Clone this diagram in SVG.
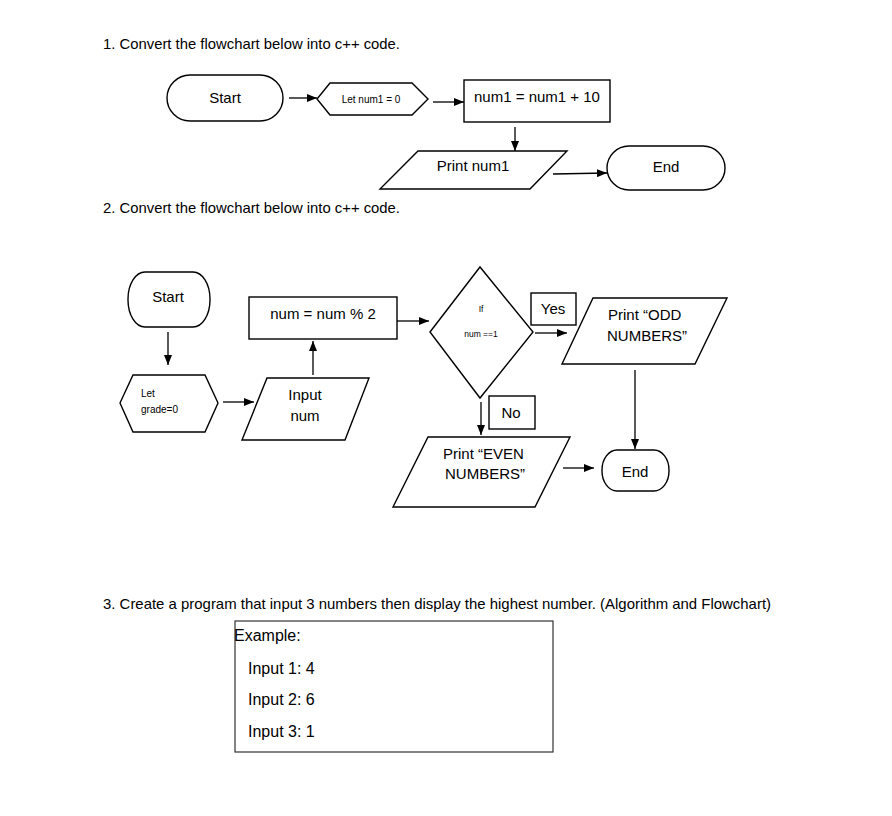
<svg xmlns="http://www.w3.org/2000/svg" width="892" height="816" viewBox="0 0 892 816">
<style>
.s{fill:#fff;stroke:#000;stroke-width:1.4}
.c{fill:none;stroke:#000;stroke-width:1.3}
text{font-family:"Liberation Sans",Arial,sans-serif;fill:#000}
.t{font-size:15px}
.m{text-anchor:middle}
.sm{font-size:10px}
.xs{font-size:8.5px}
.h{font-size:15px}
.ex{font-size:16px}
</style>
<defs>
<marker id="ah" markerUnits="userSpaceOnUse" markerWidth="10" markerHeight="8" refX="10" refY="4" orient="auto">
<path d="M0,0 L10,4 L0,8 z" fill="#000"/>
</marker>
</defs>
<rect width="892" height="816" fill="#fff"/>
<text class="h" x="103" y="49" textLength="297" lengthAdjust="spacingAndGlyphs">1. Convert the flowchart below into c++ code.</text>
<text class="h" x="103" y="213" textLength="297" lengthAdjust="spacingAndGlyphs">2. Convert the flowchart below into c++ code.</text>
<text class="h" x="103" y="609" textLength="668" lengthAdjust="spacingAndGlyphs">3. Create a program that input 3 numbers then display the highest number. (Algorithm and Flowchart)</text>

<g id="n1-start"><rect class="s" x="167" y="75" width="116" height="46" rx="23"/><text class="t m" x="225" y="103">Start</text></g>
<g id="n1-let"><polygon class="s" points="317,99 330,83 412,83 428,99 412,115 330,115"/><text class="sm m" x="371" y="103">Let num1 = 0</text></g>
<g id="n1-add"><rect class="s" x="464" y="80" width="146" height="42"/><text class="t m" x="537" y="102">num1 = num1 + 10</text></g>
<g id="n1-print"><polygon class="s" points="418,151 567,151 530,189 380,189"/><text class="t m" x="473" y="171">Print num1</text></g>
<g id="n1-end"><rect class="s" x="607" y="146" width="118" height="44" rx="22"/><text class="t m" x="666" y="172">End</text></g>

<g id="n2-start"><rect class="s" x="128" y="272" width="82" height="55" rx="17" ry="27"/><text class="t m" x="168" y="302">Start</text></g>
<g id="n2-let"><polygon class="s" points="120,403 133,375 205,375 218,403 205,432 133,432"/><text class="sm" x="141" y="397">Let</text><text class="sm" x="141" y="413">grade=0</text></g>
<g id="n2-input"><polygon class="s" points="267,378 369,378 345,440 242,440"/><text class="t m" x="305" y="400">Input</text><text class="t m" x="305" y="421">num</text></g>
<g id="n2-mod"><rect class="s" x="249" y="297" width="148" height="42"/><text class="t m" x="323" y="319">num = num % 2</text></g>
<g id="n2-if"><polygon class="s" points="430,332 480,267 533,332 480,398"/><text class="xs m" x="481" y="312">If</text><text class="xs m" x="481" y="337">num ==1</text></g>
<g id="n2-yes"><rect class="s" x="531" y="293" width="45" height="32"/><text class="t m" x="553" y="314">Yes</text></g>
<g id="n2-odd"><polygon class="s" points="593,298 727,298 695,364 562,364"/><text class="t" x="608" y="320">Print “ODD</text><text class="t" x="607" y="341">NUMBERS”</text></g>
<g id="n2-no"><rect class="s" x="489" y="396" width="46" height="33"/><text class="t m" x="511" y="418">No</text></g>
<g id="n2-even"><polygon class="s" points="428,437 570,437 535,507 393,507"/><text class="t" x="443" y="459">Print “EVEN</text><text class="t" x="445" y="479">NUMBERS”</text></g>
<g id="n2-end"><rect class="s" x="602" y="450" width="67" height="41" rx="15" ry="20"/><text class="t m" x="635" y="477">End</text></g>

<g id="example"><rect x="235" y="621" width="318" height="131" fill="#fff" stroke="#333" stroke-width="1.2"/>
<text class="ex" x="234" y="641">Example:</text>
<text class="ex" x="248" y="674">Input 1: 4</text>
<text class="ex" x="248" y="705">Input 2: 6</text>
<text class="ex" x="248" y="737">Input 3: 1</text></g>

<g id="connectors">
<line class="c" x1="289" y1="98" x2="317" y2="98" marker-end="url(#ah)"/>
<line class="c" x1="433" y1="102" x2="464" y2="102" marker-end="url(#ah)"/>
<line class="c" x1="515" y1="127" x2="515" y2="151" marker-end="url(#ah)"/>
<line class="c" x1="553" y1="174" x2="607" y2="173" marker-end="url(#ah)"/>
<line class="c" x1="168" y1="332" x2="168" y2="365" marker-end="url(#ah)"/>
<line class="c" x1="223" y1="402" x2="254" y2="402" marker-end="url(#ah)"/>
<line class="c" x1="313" y1="375" x2="313" y2="341" marker-end="url(#ah)"/>
<line class="c" x1="397" y1="321" x2="429" y2="321" marker-end="url(#ah)"/>
<line class="c" x1="535" y1="333" x2="567" y2="333" marker-end="url(#ah)"/>
<line class="c" x1="635" y1="370" x2="635" y2="449" marker-end="url(#ah)"/>
<line class="c" x1="481" y1="402" x2="481" y2="435" marker-end="url(#ah)"/>
<line class="c" x1="563" y1="468" x2="594" y2="468" marker-end="url(#ah)"/>
</g>
</svg>
